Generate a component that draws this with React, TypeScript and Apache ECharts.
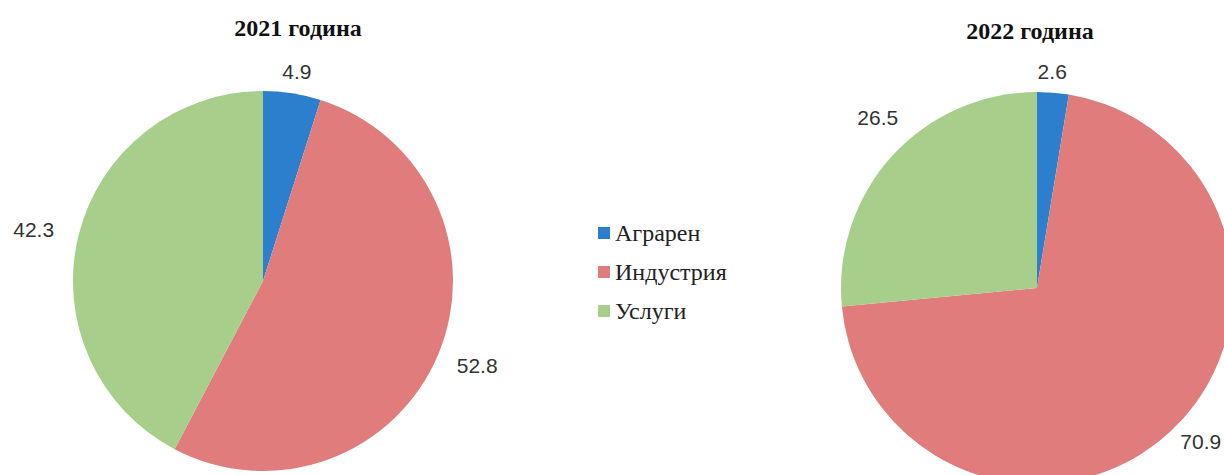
import React, { useEffect, useRef } from "react";
import * as echarts from "echarts";

const categories = ["Аграрен", "Индустрия", "Услуги"];
const values2021 = [4.9, 52.8, 42.3];
const values2022 = [2.6, 70.9, 26.5];
const titles = ["2021 година", "2022 година"];
const colors = ["#2b7fcd", "#e07c7c", "#a7cf8b"];

// label nudges [series][dataIndex] -> [dx, dy]
const labelNudge = [
  [[-18, -2], [-5, 4], [0, -1]],
  [[-22, -1], [-9, -4], [26, -25]],
];

export default function App() {
  const ref = useRef<HTMLDivElement>(null);
  useEffect(() => {
    document.body.style.margin = "0";
    if (!ref.current) return;
    const chart = echarts.init(ref.current, null, { renderer: "svg" });
    const mk = (vals: number[]) => categories.map((n, i) => ({ name: n, value: vals[i] }));
    const labelCommon = {
      show: true,
      position: "outside" as const,
      formatter: "{c}",
      overflow: "none" as const,
      fontFamily: "Liberation Sans, Arial, sans-serif",
      fontSize: 21,
      color: "#333",
    };
    const layout = (s: number) => (p: any) => {
      const n = labelNudge[s][p.dataIndex];
      return { dx: n[0], dy: n[1] };
    };
    const titleStyle = { fontFamily: "Liberation Serif, Times New Roman, serif", fontWeight: "bold" as const, fontSize: 24, color: "#111" };
    chart.setOption({
      animation: false,
      color: colors,
      title: [
        { text: titles[0], left: 293, top: 11, textAlign: "center", textStyle: titleStyle },
        { text: titles[1], left: 1025, top: 14, textAlign: "center", textStyle: titleStyle },
      ],
      legend: {
        data: categories,
        orient: "vertical",
        left: 593,
        top: 216,
        itemWidth: 12,
        itemHeight: 12,
        itemGap: 15,
        icon: "rect",
        textStyle: { fontFamily: "Liberation Serif, Times New Roman, serif", fontSize: 24, color: "#222" },
      },
      series: [
        {
          type: "pie",
          center: [263, 281],
          radius: 190,
          startAngle: 90,
          clockwise: true,
          label: labelCommon,
          labelLine: { show: false, length: 20, length2: 0 },
          labelLayout: layout(0),
          emphasis: { disabled: true },
          data: mk(values2021),
        },
        {
          type: "pie",
          center: [1037, 288],
          radius: 196,
          startAngle: 90,
          clockwise: true,
          label: labelCommon,
          labelLine: { show: false, length: 20, length2: 0 },
          labelLayout: layout(1),
          emphasis: { disabled: true },
          data: mk(values2022),
        },
      ],
    });
    return () => chart.dispose();
  }, []);
  return <div ref={ref} style={{ width: 1224, height: 475 }} />;
}
